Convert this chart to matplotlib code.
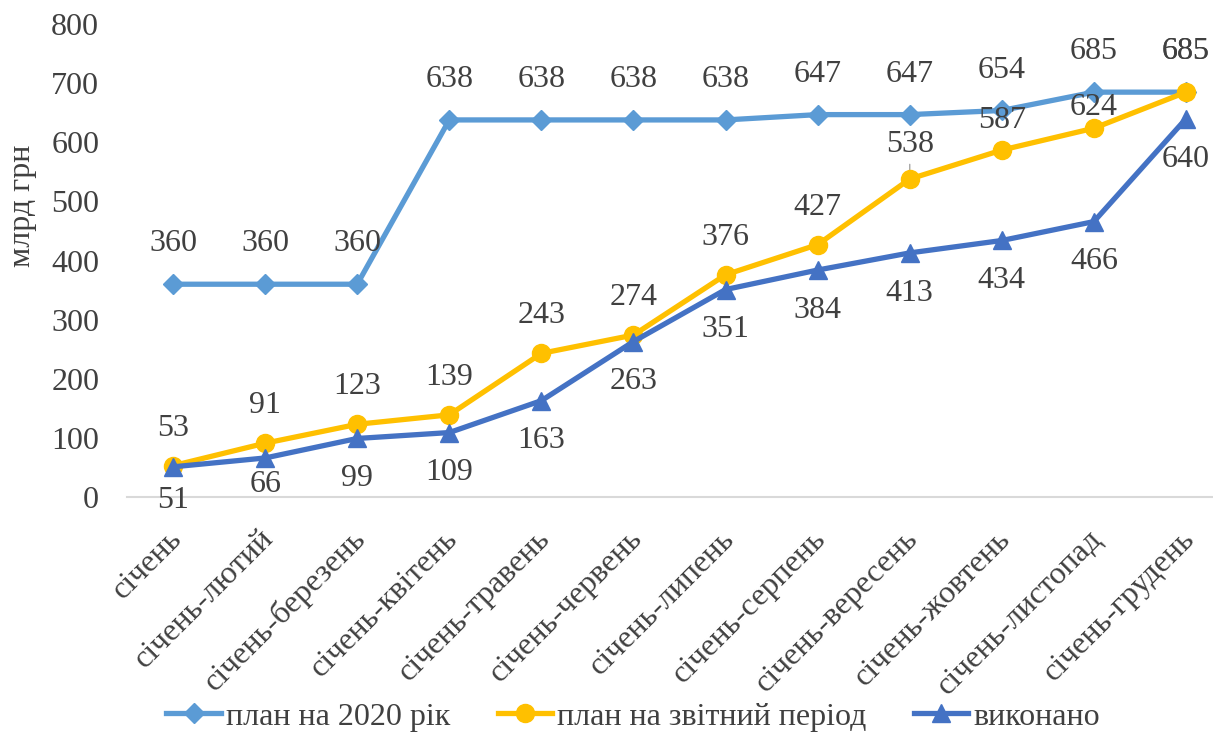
import matplotlib.pyplot as plt
from matplotlib.transforms import ScaledTranslation

plt.rcParams['font.family'] = ['Liberation Serif', 'DejaVu Serif']

months = ["січень", "січень-лютий", "січень-березень", "січень-квітень",
          "січень-травень", "січень-червень", "січень-липень", "січень-серпень",
          "січень-вересень", "січень-жовтень", "січень-листопад", "січень-грудень"]
plan_year = [360, 360, 360, 638, 638, 638, 638, 647, 647, 654, 685, 685]
plan_period = [53, 91, 123, 139, 243, 274, 376, 427, 538, 587, 624, 685]
done = [51, 66, 99, 109, 163, 263, 351, 384, 413, 434, 466, 640]

c_year = "#5B9BD5"
c_period = "#FFC000"
c_done = "#4472C4"
txt = "#404040"

# label offsets (points) that were nudged by hand in the original
period_off = {8: 25, 9: 21, 10: 15, 11: 29}
done_off = {0: -24, 1: -19}

fig = plt.figure(figsize=(12.13, 7.33), dpi=100)
ax = fig.add_axes([0.1047, 0.322, 0.911, 0.645])
x = range(len(months))

ax.plot(x, plan_year, color=c_year, lw=3.8, marker="D", ms=10, label="план на 2020 рік", zorder=3)
ax.plot(x, plan_period, color=c_period, lw=3.8, marker="o", ms=13, label="план на звітний період", zorder=4)
ax.plot(x, done, color=c_done, lw=3.8, marker="^", ms=13, label="виконано", zorder=5)

for i in x:
    ax.annotate(str(plan_year[i]), (i, plan_year[i]), xytext=(0, 29), textcoords="offset points",
                ha="center", va="center", fontsize=23, color=txt)
    # the moved 538 label keeps a thin leader line in the original
    arrow = dict(arrowstyle="-", color="#a6a6a6", lw=1, shrinkA=2, shrinkB=0) if i == 8 else None
    ax.annotate(str(plan_period[i]), (i, plan_period[i]), xytext=(0, period_off.get(i, 27)),
                textcoords="offset points", ha="center", va="center", fontsize=23, color=txt,
                arrowprops=arrow, zorder=3.5)
    ax.annotate(str(done[i]), (i, done[i]), xytext=(0, done_off.get(i, -29)), textcoords="offset points",
                ha="center", va="center", fontsize=23, color=txt)

ax.set_xlim(-0.5, len(months) - 0.5)
ax.set_ylim(0, 800)
ax.set_yticks(range(0, 801, 100))
ax.tick_params(axis="y", length=0, labelsize=23, labelcolor=txt, pad=20)
ax.tick_params(axis="x", length=0, labelsize=23, labelcolor=txt, pad=27)
ax.set_xticks(list(x))
ax.set_xticklabels(months, rotation=45, ha="right", va="center", rotation_mode="anchor")
shift = ScaledTranslation(3 / 72, 0, fig.dpi_scale_trans)
for lab in ax.get_xticklabels():
    lab.set_transform(lab.get_transform() + shift)
ax.set_ylabel("млрд грн", fontsize=23, color=txt)
ax.yaxis.set_label_coords(-0.081, 0.615)

for s in ["top", "right", "left"]:
    ax.spines[s].set_visible(False)
ax.spines["bottom"].set_color("#d9d9d9")
ax.spines["bottom"].set_linewidth(1.5)

leg = fig.legend(loc="center", bbox_to_anchor=(0.522, 0.022), ncol=3, frameon=False,
                 fontsize=23, handlelength=1.7, handletextpad=0.15, columnspacing=1.5,
                 borderpad=0)
for t in leg.get_texts():
    t.set_color(txt)

fig.savefig("out.png", dpi=100)
